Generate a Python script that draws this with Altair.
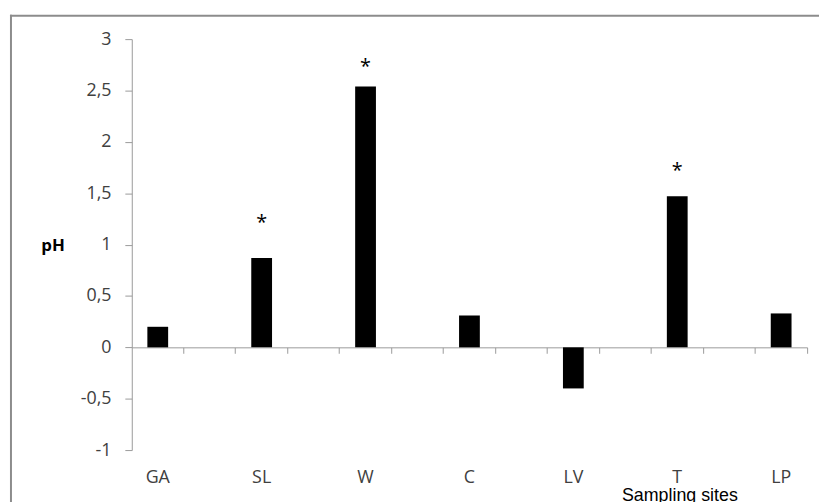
import altair as alt
import pandas as pd

# ---- data ----
sites = ["GA", "SL", "W", "C", "LV", "T", "LP"]
ph_change = [0.20, 0.87, 2.54, 0.31, -0.40, 1.47, 0.33]
star_sites = ["SL", "W", "T"]
star_y = [1.25, 2.77, 1.75]
y_ticks = [-1, -0.5, 0, 0.5, 1, 1.5, 2, 2.5, 3]
gap_names = ["g1", "g2", "g3", "g4", "g5", "g6"]

# category slots: each site followed by an empty slot (as in the original)
slots = []
for i, s in enumerate(sites):
    slots.append(s)
    if i < len(gap_names):
        slots.append(gap_names[i])

W, H = 682, 415
y_dom = [-1, 3]
zero_offset = -H * (0 - y_dom[0]) / (y_dom[1] - y_dom[0])

bars_df = pd.DataFrame({"site": sites, "value": ph_change})
stars_df = pd.DataFrame({"site": star_sites, "y": star_y, "t": ["*"] * len(star_sites)})
frame_df = pd.DataFrame({"k": [0]})

FONT = "Open Sans"
FRAME = "#8c8c8c"
xscale = alt.Scale(domain=slots, paddingInner=0, paddingOuter=0)
yscale = alt.Scale(domain=y_dom, nice=False, zero=False)

frame_top = alt.Chart(frame_df).mark_rule(stroke=FRAME, strokeWidth=2).encode(
    x=alt.value(-123), x2=alt.value(W + 30), y=alt.value(-23.5)
)
frame_left = alt.Chart(frame_df).mark_rule(stroke=FRAME, strokeWidth=2).encode(
    x=alt.value(-122), y=alt.value(-24.5), y2=alt.value(H + 80)
)

bars = alt.Chart(bars_df).mark_bar(color="black", width=alt.RelativeBandSize(0.4)).encode(
    x=alt.X(
        "site:N",
        scale=xscale,
        axis=alt.Axis(
            title="Sampling sites",
            titleX=553,
            titleY=155,
            titleAlign="center",
            titleBaseline="alphabetic",
            titleFont="Liberation Sans",
            titleFontSize=18,
            titleFontWeight="normal",
            titleColor="black",
            labels=False,
            bandPosition=1,
            offset=zero_offset,
            tickSize=6,
            domainColor="#9a9a9a",
            tickColor="#9a9a9a",
            grid=False,
        ),
    ),
    y=alt.Y(
        "value:Q",
        scale=yscale,
        axis=alt.Axis(
            values=y_ticks,
            labelExpr="replace(toString(datum.value), '.', ',')",
            labelFont=FONT,
            labelFontSize=18,
            labelColor="#404040",
            labelPadding=14,
            tickSize=7,
            domainColor="#9a9a9a",
            tickColor="#9a9a9a",
            grid=False,
            title="pH",
            titleAngle=0,
            titleX=-80,
            titleY=208,
            titleAlign="center",
            titleBaseline="middle",
            titleFont=FONT,
            titleFontWeight="bold",
            titleFontSize=17,
            titleColor="black",
        ),
    ),
)

labels = alt.Chart(bars_df).mark_text(
    font=FONT, fontSize=18, color="#404040", baseline="middle", dy=28
).encode(x=alt.X("site:N", scale=xscale), y=alt.datum(-1), text="site:N")

stars = alt.Chart(stars_df).mark_text(
    font=FONT, fontSize=20, color="black", baseline="middle", dy=4
).encode(x=alt.X("site:N", scale=xscale), y=alt.Y("y:Q", scale=yscale), text="t:N")

chart = (
    alt.layer(frame_top, frame_left, bars, labels, stars)
    .properties(
        width=W,
        height=H,
        autosize=alt.AutoSizeParams(type="none"),
        padding={"left": 125, "top": 29, "right": 12, "bottom": 50},
        background="white",
    )
    .configure_view(stroke=None)
)

chart.save("out.html", embed_options={"renderer": "svg", "actions": False})
